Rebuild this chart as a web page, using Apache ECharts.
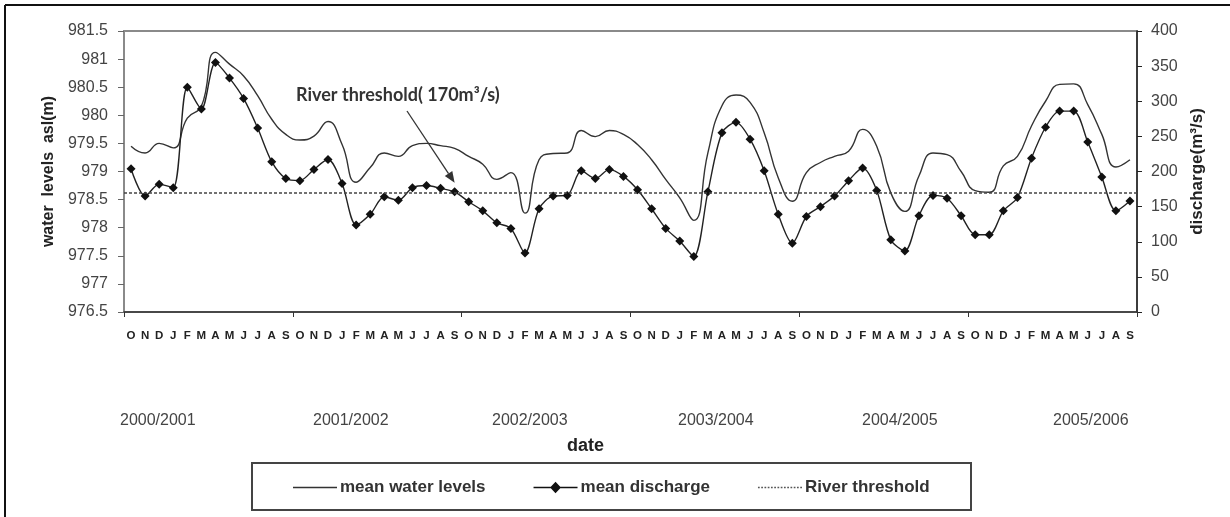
<!DOCTYPE html>
<html>
<head>
<meta charset="utf-8">
<script src="https://cdn.jsdelivr.net/npm/echarts@6/dist/echarts.min.js"></script>
<style>
html,body{margin:0;padding:0;background:#fff;}
#chart{width:1230px;height:517px;}
</style>
</head>
<body>
<div id="chart"></div>
<script>
// ---- data ----
const seasons = ['2000/2001','2001/2002','2002/2003','2003/2004','2004/2005','2005/2006'];
const monthLetters = ['O','N','D','J','F','M','A','M','J','J','A','S'];
const waterLevels = [
  979.45, 979.33, 979.50, 979.42, 979.95, 980.16, 981.12, 980.91, 980.70, 980.35, 979.93, 979.66,
  979.56, 979.63, 979.89, 979.48, 978.81, 979.07, 979.33, 979.27, 979.46, 979.50, 979.46, 979.41,
  979.27, 979.13, 978.86, 978.98, 978.26, 979.21, 979.32, 979.33, 979.73, 979.62, 979.73, 979.66,
  979.48, 979.21, 978.86, 978.53, 978.13, 979.33, 980.17, 980.36, 980.23, 979.69, 978.89, 978.47,
  978.98, 979.16, 979.27, 979.36, 979.75, 979.45, 978.62, 978.29, 978.92, 979.33, 979.30, 979.00,
  978.66, 978.63, 979.10, 979.27, 979.81, 980.25, 980.55, 980.56, 980.19, 979.66, 979.08, 979.21
];
const discharge = [
  204, 165, 182, 177, 320, 289, 355, 333, 304, 262, 214, 190,
  187, 203, 217, 183, 124, 139, 164, 159, 177, 180, 176, 171,
  157, 144, 127, 119,  84, 147, 165, 166, 201, 190, 203, 193,
  174, 147, 119, 101,  79, 171, 255, 270, 246, 201, 139,  98,
  136, 150, 165, 187, 205, 173, 103,  87, 137, 166, 162, 137,
  110, 110, 144, 163, 219, 263, 286, 286, 242, 192, 144, 158
];
const riverThreshold = 170;
const leftTicks = {min: 976.5, max: 981.5, interval: 0.5};
const rightTicks = {min: 0, max: 400, interval: 50};

const categories = [];
seasons.forEach(s => monthLetters.forEach((m, i) => categories.push(s + '|' + i + '|' + m)));

const chart = echarts.init(document.getElementById('chart'));
const labelFont = "'Liberation Sans Narrow','Arial Narrow','Liberation Sans',sans-serif";

// year label positions (text, not marks)
const yearX = [120, 313, 492, 678, 862, 1053];

// legend icons
const iconSolid = 'path://M0,0 L42,0 L42,1.6 L0,1.6 Z';
const iconDiamond = 'path://M0,5.2 L16.5,5.2 L21,0.5 L25.5,5.2 L42,5.2 L42,6.8 L25.5,6.8 L21,11.5 L16.5,6.8 L0,6.8 Z';
let dots = '';
for (let k = 0; k < 14; k++) { const x = k * 3; dots += `M${x},0 L${x + 1.6},0 L${x + 1.6},1.4 L${x},1.4 Z `; }
const iconDotted = 'path://' + dots;

const option = {
  animation: false,
  backgroundColor: '#fff',
  grid: {left: 124, right: 93, top: 31, bottom: 205, show: true, borderColor: '#8a8a8a', borderWidth: 2, containLabel: false},
  legend: {
    left: 293, top: 479, padding: 0, itemGap: 48, itemWidth: 44, itemHeight: 12,
    textStyle: {fontFamily: 'Liberation Sans', fontWeight: 'bold', fontSize: 17, color: '#333', padding: [0, 0, 0, -2]},
    data: [
      {name: 'mean water levels', icon: iconSolid},
      {name: 'mean discharge', icon: iconDiamond},
      {name: 'River threshold', icon: iconDotted}
    ]
  },
  xAxis: {
    type: 'category', data: categories, boundaryGap: true,
    axisLine: {lineStyle: {color: '#333', width: 1.5}},
    axisTick: {show: true, length: 5, interval: (i) => i % 12 === 0, lineStyle: {color: '#333'}},
    axisLabel: {interval: 0, margin: 18, fontFamily: 'Liberation Sans', fontWeight: 'bold', fontSize: 11.5, color: '#222',
      formatter: (v) => v.split('|')[2]},
    splitLine: {show: false}
  },
  yAxis: [
    {
      type: 'value', position: 'left', min: leftTicks.min, max: leftTicks.max, interval: leftTicks.interval,
      name: 'water  levels  asl(m)', nameLocation: 'middle', nameRotate: 90, nameGap: 62,
      nameTextStyle: {fontFamily: 'Liberation Sans', fontWeight: 'bold', fontSize: 16, color: '#222'},
      axisLine: {show: true, lineStyle: {color: '#8a8a8a', width: 1.5}},
      axisTick: {show: true, length: 6, lineStyle: {color: '#666'}},
      axisLabel: {margin: 16, fontFamily: labelFont, fontSize: 16, color: '#444',
        formatter: (v) => String(+v.toFixed(1))},
      splitLine: {show: false}
    },
    {
      type: 'value', position: 'right', min: rightTicks.min, max: rightTicks.max, interval: rightTicks.interval,
      name: 'discharge(m³/s)', nameLocation: 'middle', nameRotate: 90, nameGap: 50,
      nameTextStyle: {fontFamily: 'Liberation Sans', fontWeight: 'bold', fontSize: 17, color: '#222'},
      axisLine: {show: true, lineStyle: {color: '#222', width: 1.5}},
      axisTick: {show: true, length: 5, lineStyle: {color: '#222'}},
      axisLabel: {margin: 14, fontFamily: labelFont, fontSize: 16, color: '#444'},
      splitLine: {show: false}
    }
  ],
  series: [
    {
      name: 'mean water levels', type: 'line', yAxisIndex: 0, data: waterLevels,
      smooth: 0.5, symbol: 'none', z: 3,
      lineStyle: {color: '#333', width: 1.4}, itemStyle: {color: '#333'}
    },
    {
      name: 'mean discharge', type: 'line', yAxisIndex: 1, data: discharge,
      smooth: 0.3, symbol: 'diamond', symbolSize: 9, showSymbol: true, z: 4,
      lineStyle: {color: '#222', width: 1.4}, itemStyle: {color: '#111'}
    },
    {
      name: 'River threshold', type: 'line', yAxisIndex: 1, data: [],
      symbol: 'none', z: 2,
      lineStyle: {color: '#444', width: 1.4, type: [3, 2]}, itemStyle: {color: '#555'},
      markLine: {
        silent: true, symbol: ['none', 'none'], label: {show: false},
        lineStyle: {color: '#444', width: 1.6, type: [3, 2]},
        data: [{yAxis: riverThreshold}]
      }
    }
  ],
  graphic: []
};
chart.setOption(option);

// annotations (text + arrow) and frame
const tip = chart.convertToPixel({seriesIndex: 1}, [23, 184]);
const start = [407, 111];
const dx = tip[0] - start[0], dy = tip[1] - start[1];
const len = Math.sqrt(dx * dx + dy * dy);
const ux = dx / len, uy = dy / len;
const ah = 11, aw = 4.5;
const base = [tip[0] - ux * ah, tip[1] - uy * ah];
const graphics = [
  {type: 'line', shape: {x1: 5, y1: 5, x2: 1230, y2: 5}, style: {stroke: '#111', lineWidth: 2}},
  {type: 'line', shape: {x1: 5, y1: 5, x2: 5, y2: 517}, style: {stroke: '#111', lineWidth: 2}},
  {type: 'text', left: 296, top: 86, style: {text: 'River threshold( 170m³/s)', font: "bold 18px Lato, 'Liberation Sans', sans-serif", fill: '#333'}},
  {type: 'line', shape: {x1: start[0], y1: start[1], x2: base[0], y2: base[1]}, style: {stroke: '#333', lineWidth: 1.3}},
  {type: 'polygon', shape: {points: [tip, [base[0] - uy * aw, base[1] + ux * aw], [base[0] + uy * aw, base[1] - ux * aw]]}, style: {fill: '#333'}},
  {type: 'text', left: 567, top: 437, style: {text: 'date', font: "bold 18px 'Liberation Sans', sans-serif", fill: '#222'}},
  {type: 'rect', shape: {x: 252, y: 463, width: 719, height: 47}, style: {fill: 'none', stroke: '#444', lineWidth: 2}}
];
seasons.forEach((s, i) => graphics.push({type: 'text', left: yearX[i], top: 413,
  style: {text: s, font: "16px " + labelFont, fill: '#444'}}));
chart.setOption({graphic: graphics});
</script>
</body>
</html>
